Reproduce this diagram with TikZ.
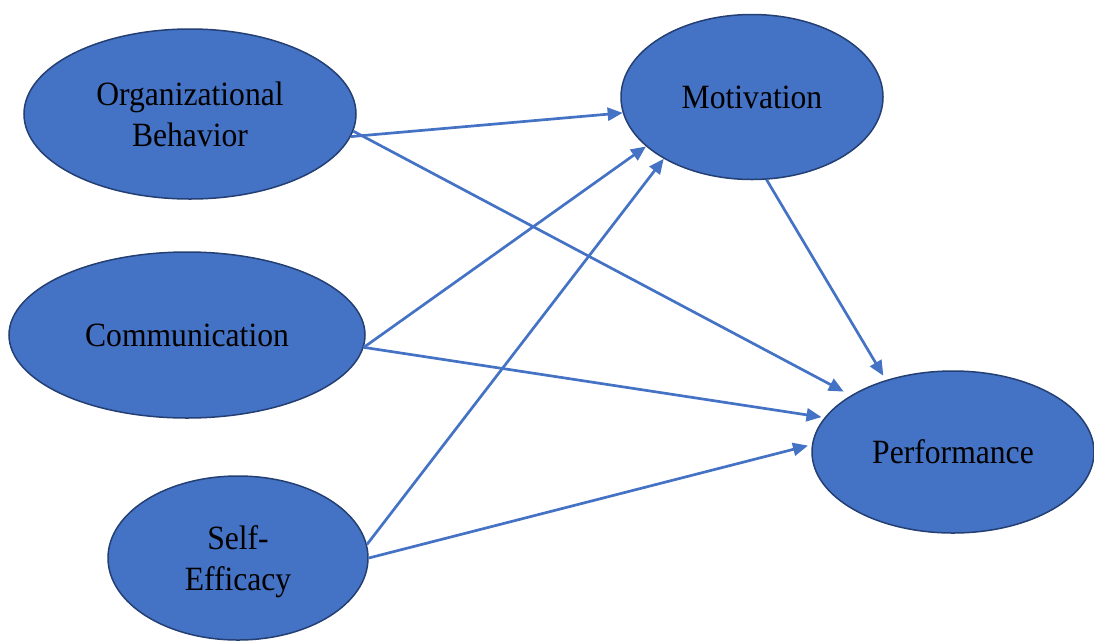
\documentclass[tikz,border=0pt]{standalone}
\usepackage{fontspec}
\setmainfont[FakeStretch=0.93]{Liberation Serif}
\usetikzlibrary{arrows.meta,shapes.geometric}
\definecolor{latfill}{HTML}{4472C4}
\definecolor{latedge}{HTML}{243F73}
\begin{document}
\begin{tikzpicture}[x=1pt,y=-1pt,
  latent/.style={ellipse, draw=latedge, line width=1.5pt, fill=latfill,
    inner sep=0pt, align=center, text depth=0pt,
    font=\fontsize{34}{41}\selectfont},
  link/.style={draw=latfill, line width=2.7pt,
    -{Triangle[length=15pt,width=13pt]}}]
\useasboundingbox (0,0) rectangle (1094,641);

% latent constructs
\node[latent, minimum width=332pt, minimum height=170pt] (org)  at (190,114) {Organizational\\Behavior};
\node[latent, minimum width=356pt, minimum height=166pt] (com)  at (187,335) {Communication};
\node[latent, minimum width=260pt, minimum height=164pt] (self) at (238,558) {Self-\\Efficacy};
\node[latent, minimum width=262pt, minimum height=165pt] (mot)  at (752,97)  {Motivation};
\node[latent, minimum width=282pt, minimum height=162pt] (perf) at (953,452) {Performance};

% structural paths
\draw[link] (org.-8) -- (mot.187);
\draw[link, shorten >=8pt] (org.-6) -- (perf.151);
\draw[link] (com.-4) -- (mot.205);
\draw[link, shorten >=3pt] (com.-4) -- (perf.165);
\draw[link] (self.6) -- (mot.215);
\draw[link, shorten >=4pt] (self.0) -- (perf.177);
\draw[link, shorten >=5pt] (mot.-80) -- (perf.133);
\end{tikzpicture}
\end{document}
